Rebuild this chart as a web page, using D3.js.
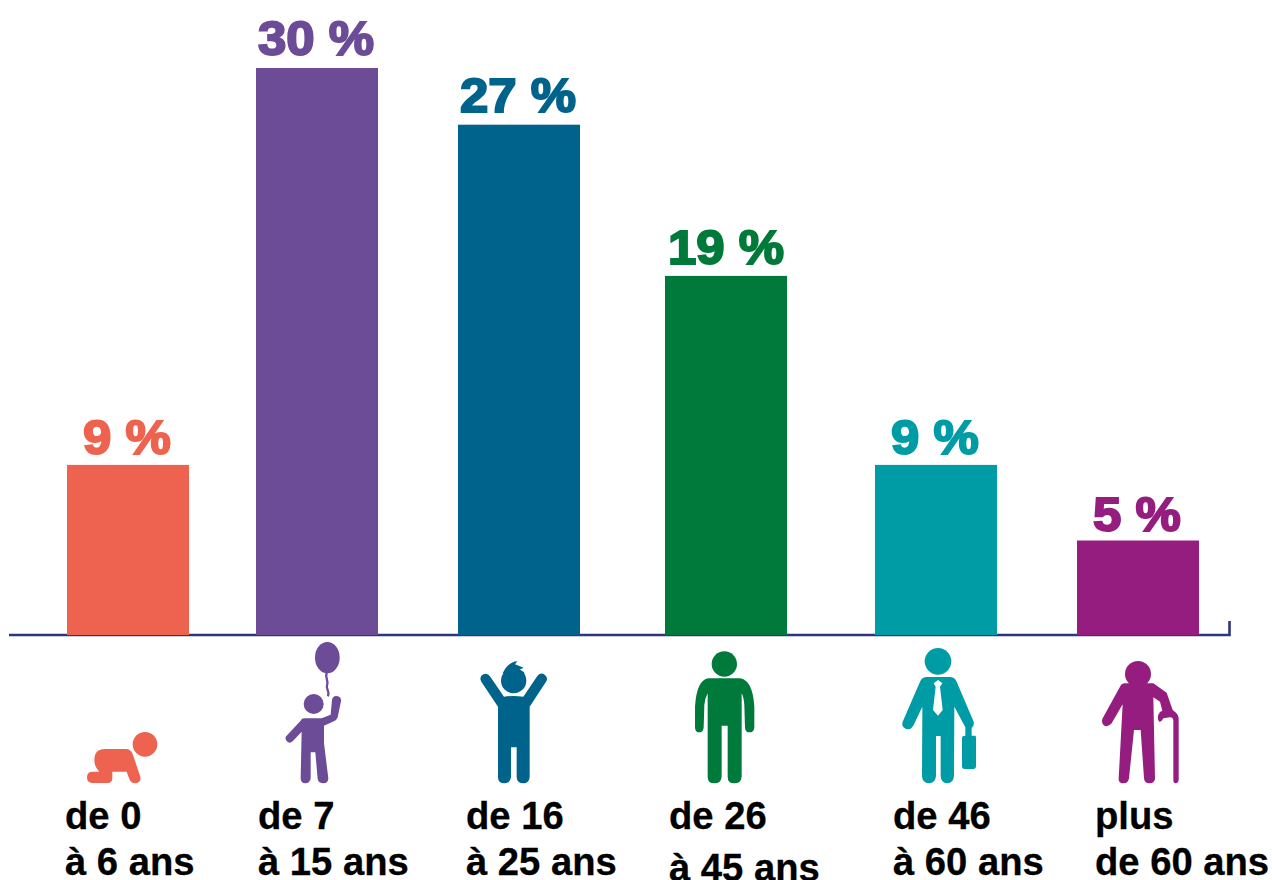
<!DOCTYPE html>
<html lang="fr">
<head>
<meta charset="utf-8">
<title>Répartition par âge</title>
<script src="https://d3js.org/d3.v7.min.js"></script>
<style>
  html, body { margin: 0; padding: 0; background: #fff; overflow: hidden; }
  text { font-family: "Liberation Sans", Arial, sans-serif; font-weight: bold; }
</style>
</head>
<body>
<div id="chart"></div>
<script>
// data
const categories = ['0-6', '7-15', '16-25', '26-45', '46-60', '60+'];
const values = [9, 30, 27, 19, 9, 5];
const labelFirstLine = ['de 0', 'de 7', 'de 16', 'de 26', 'de 46', 'plus'];
const labelSecondLine = ['à 6 ans', 'à 15 ans', 'à 25 ans', 'à 45 ans', 'à 60 ans', 'de 60 ans'];
const colors = ['#ee634f', '#6c4b97', '#00638b', '#007a3a', '#009ca6', '#951d80'];

// layout (bars are not evenly spaced in the original)
const width = 1272, height = 880;
const barWidth = 122;
const barCenters = [128, 317, 519, 726, 936, 1138];
const valueGaps = [11, 13, 13, 12, 11, 10];
const valueShift = [-1, -1, -1, 0, -1, -1];
const labelLeft = [65, 258, 466, 669, 893, 1095];
const secondLineY = [875, 875, 875, 881, 875, 875];

const x = d3.scaleOrdinal().domain(categories).range(barCenters);
const y = d3.scaleLinear().domain([0, 30]).range([635, 68]);

const svg = d3.select('#chart').append('svg')
    .attr('width', width)
    .attr('height', height)
    .attr('viewBox', `0 0 ${width} ${height}`)
    .style('display', 'block');

// baseline with the small tick at the right end, bars sit on top of it
svg.append('path')
    .attr('d', `M9,${y(0)}H1229.5V621`)
    .attr('fill', 'none')
    .attr('stroke', '#2e3480')
    .attr('stroke-width', 2.6);

// bars
svg.selectAll('.bar')
    .data(categories)
    .enter()
    .append('rect')
    .attr('class', 'bar')
    .attr('x', d => x(d) - barWidth / 2)
    .attr('y', (d, i) => y(values[i]))
    .attr('width', barWidth)
    .attr('height', (d, i) => y(0) - y(values[i]))
    .attr('fill', (d, i) => colors[i]);

// value labels, the original face is heavier and wider than Liberation Bold
svg.selectAll('.value')
    .data(categories)
    .enter()
    .append('text')
    .attr('class', 'value')
    .attr('transform', (d, i) => `translate(${x(d) + valueShift[i]},${y(values[i]) - valueGaps[i]}) scale(1.04,1)`)
    .attr('text-anchor', 'middle')
    .attr('font-size', 49)
    .attr('fill', (d, i) => colors[i])
    .attr('stroke', (d, i) => colors[i])
    .attr('stroke-width', 2)
    .text((d, i) => `${values[i]} %`);

// category labels
svg.selectAll('.cat1')
    .data(categories)
    .enter()
    .append('text')
    .attr('class', 'cat1')
    .attr('x', (d, i) => labelLeft[i])
    .attr('y', 829)
    .attr('font-size', 38.2)
    .attr('fill', '#000')
    .attr('stroke', '#000')
    .attr('stroke-width', 0.3)
    .text((d, i) => labelFirstLine[i]);

svg.selectAll('.cat2')
    .data(categories)
    .enter()
    .append('text')
    .attr('class', 'cat2')
    .attr('x', (d, i) => labelLeft[i])
    .attr('y', (d, i) => secondLineY[i])
    .attr('font-size', 38.2)
    .attr('fill', '#000')
    .attr('stroke', '#000')
    .attr('stroke-width', 0.3)
    .text((d, i) => labelSecondLine[i]);

// pictograms, traced at 3x and scaled down; dx/dy are relative to bar center and baseline
const icons = [
  { dx: -68, dy: -5, draw(g, c) {
      g.append('circle').attr('cx', 255).attr('cy', 343).attr('r', 37).attr('fill', c);
      g.append('path').attr('fill', c).attr('d',
        'M103,390Q103,357 135,357L198,357Q212,357 218,372L241,440Q245,458 226,460Q213,460 208,447L200,425L157,425L157,445Q157,459 143,459L97,459Q81,459 81,442Q81,425 97,425L118,425Q103,410 103,390Z');
  }},
  { dx: -257, dy: -5, draw(g, c) {
      g.append('ellipse').attr('cx', 802).attr('cy', 83).attr('rx', 37).attr('ry', 47).attr('fill', c);
      g.append('path').attr('fill', 'none').attr('stroke', c).attr('stroke-width', 7)
        .attr('d', 'M800,128C794,145 808,155 801,167C797,176 810,182 804,199');
      g.append('circle').attr('cx', 761).attr('cy', 222).attr('r', 30).attr('fill', c);
      g.append('path').attr('fill', c).attr('d',
        'M732,265L785,265L812,254L816,210Q818,197 830,198Q845,200 843,214L833,262Q830,270 823,273L792,287L792,340L805,445Q805,460 790,460Q776,460 773,447L766,367L752,367L752,445Q750,460 736,460Q722,460 722,445L725,305L698,334Q688,343 680,333Q672,322 682,315L722,272Q725,265 732,265Z');
  }},
  { dx: -59, dy: -5, draw(g, c) {
      g.append('circle').attr('cx', 161).attr('cy', 152).attr('r', 38).attr('fill', c);
      g.append('path').attr('fill', c).attr('d',
        'M128,130Q145,95 172,94L165,103L191,113L178,119L192,126L195,150Z');
      g.append('path').attr('fill', c).attr('d',
        'M114,230L64,155Q56,140 70,133Q82,127 91,140L132,200Q160,196 190,200L232,138Q242,126 254,134Q266,143 258,155L209,230L209,442Q207,460 190,460Q171,460 170,442L170,352L153,352L153,442Q151,460 133,460Q114,460 114,442Z');
  }},
  { dx: -266, dy: -5, draw(g, c) {
      g.append('circle').attr('cx', 793).attr('cy', 102).attr('r', 38).attr('fill', c);
      g.append('path').attr('fill', c).attr('d',
        'M745,145L840,145Q878,150 883,230L883,293Q881,307 869,307Q856,307 855,293L853,225Q851,200 845,190L845,440Q843,460 823,460Q803,460 803,440L803,287L785,287L785,440Q783,460 763,460Q743,460 743,440L743,190Q735,205 733,225L731,293Q729,307 718,307Q706,307 705,293L705,230Q710,150 745,145Z');
  }},
  { dx: -76, dy: -25, draw(g, c) {
      g.append('circle').attr('cx', 234).attr('cy', 154).attr('r', 40).attr('fill', c);
      g.append('path').attr('fill', c).attr('d',
        'M198,201L272,201Q284,202 290,215L341,335Q344,346 335,354L335,377L346,377Q348,378 348,384L348,468Q348,477 340,477L314,477Q306,477 306,468L306,384Q306,377 316,377L316,352L283,290L282,498Q280,520 262,520Q243,520 242,498L242,378L228,378L228,498Q226,520 207,520Q187,520 186,498L187,290L161,345Q152,362 137,356Q122,348 129,333L180,215Q186,202 198,201Z');
      g.append('path').attr('fill', '#fff').attr('d',
        'M234,210L247,220L240,230L248,300L234,317L219,300L227,230L221,220Z');
  }},
  { dx: -278, dy: -25, draw(g, c) {
      g.append('circle').attr('cx', 834).attr('cy', 192).attr('r', 39).attr('fill', c);
      g.append('path').attr('fill', c).attr('d',
        'M795,220L880,220L920,248L938,300L948,308Q956,315 956,325L956,510Q954,520 947,520Q940,520 940,510L940,330Q938,320 930,322L910,325Q905,336 898,335Q892,330 894,318Q897,305 907,302L900,275L880,262L885,505Q885,520 868,520Q853,520 852,505L842,360L822,360L807,505Q805,520 791,520Q775,520 776,505L788,283L755,340Q745,352 733,347Q722,338 728,325L780,230Q785,220 795,220Z');
  }}
];

categories.forEach((d, i) => {
    const g = svg.append('g')
        .attr('class', 'icon')
        .attr('transform', `translate(${x(d) + icons[i].dx},${y(0) + icons[i].dy}) scale(${1 / 3})`);
    icons[i].draw(g, colors[i]);
});
</script>
</body>
</html>
